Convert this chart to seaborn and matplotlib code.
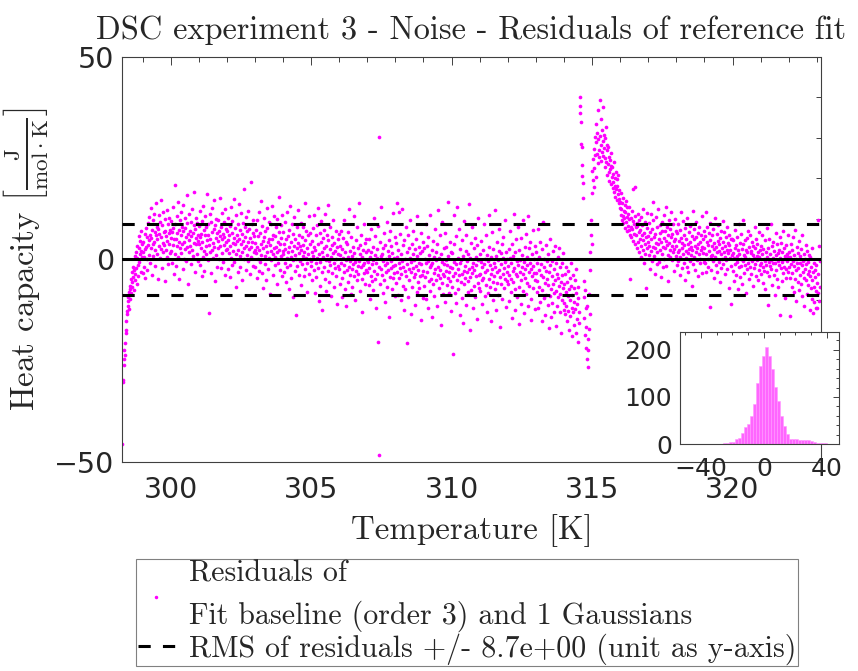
import numpy as np
import pandas as pd
import matplotlib
matplotlib.use("Agg")
import matplotlib.pyplot as plt
from matplotlib.lines import Line2D
from matplotlib.ticker import MultipleLocator
import seaborn as sns

# ---------------- data (residuals, 1-K windows) ----------------
T_STEP = 1 / 70  # sampling interval [K]

seg298 = [-45.6, -30.3, -29.8, -24.5, -26.1, -22.3, -20.6, -23.5, -18.2, -15.1, -17.4, -12.8, -13.5, -10.2, -11.6, -9.4, -12.3, -8.1, -7.2, -9.8, -6.5, -4.9, -8.3, -5.7, -3.2, -6.9, -1.8, -4.4, -7.5, -2.6, 0.8, -5.1, -3.7, 1.9, -2.2, -6.1, 0.3, 3.4, -1.5, -4.2, 2.7, 5.8, -0.6, 1.2, 4.6, -3.1, 6.9, 2.1, 0.5, 3.8]
seg299 = [1.8, -3.4, 4.2, 0.6, -1.9, 6.3, 2.5, -4.6, 3.1, 7.8, 0.2, 5.4, -2.7, 8.9, 3.6, 1.1, 10.4, 4.7, -0.8, 6.1, 2.9, 12.6, 5.2, -3.9, 7.3, 3.8, 0.9, 9.6, 4.4, 11.2, 6.7, -1.6, 2.3, 13.8, 5.9, 8.1, 1.4, 4.9, -4.8, 7.6, 3.3, 10.9, 6.2, 0.4, 9.1, 2.6, 14.7, 5.5, -2.1, 8.4, 4.1, 1.7, 11.8, 6.8, 3.5, -5.3, 7.1, 9.9, 2.2, 5.8, 12.1, 0.7, 4.6, 8.7, -1.2, 6.4, 3.9, 10.3, 1.5, 7.2]
seg300 = [5.3, 2.1, 9.4, -0.9, 6.7, 12.9, 3.6, 7.8, -3.5, 4.9, 18.3, 1.2, 8.6, 5.1, -1.7, 10.8, 3.3, 6.4, 14.2, 0.5, 7.3, 4.2, -4.9, 9.7, 2.8, 11.6, 5.9, 1.6, 8.1, 3.7, -2.4, 6.9, 13.5, 4.4, 0.1, 7.7, 10.2, 2.5, 5.6, -0.3, 15.8, 3.1, 8.9, 6.2, -6.2, 4.8, 1.9, 11.3, 7.1, 3.4, 9.3, -1.1, 5.7, 12.4, 2.3, 6.6, 0.8, 8.4, 4.1, 16.7, -3.0, 7.5, 3.9, 10.1, 5.2, 1.4, 9.0, 6.0, -0.5, 4.6]
seg301 = [3.8, 8.2, -1.4, 5.5, 11.9, 2.7, 6.3, -4.1, 9.5, 4.3, 0.6, 13.1, 7.2, 2.0, -2.8, 5.9, 10.6, 3.2, 7.9, 1.3, 16.2, 4.7, -0.2, 8.8, 6.1, -13.2, 3.5, 11.1, 5.0, 1.8, 9.1, -3.3, 6.8, 2.4, 12.7, 4.0, 0.3, 7.4, 14.6, 3.0, -5.4, 8.5, 5.3, 1.0, 10.0, 6.5, -1.8, 4.5, 9.8, 2.9, 7.0, 0.0, 15.1, 5.8, 3.3, -2.2, 8.0, 4.9, 11.5, 1.6, 6.2, -0.7, 9.2, 3.6, 5.4, 12.3, -3.8, 7.6, 2.2, 4.4]
seg302 = [2.6, 7.1, -2.5, 4.8, 10.2, 1.5, 5.9, -4.4, 8.3, 3.2, 12.8, 0.4, 6.6, -1.3, 9.4, 4.1, 2.0, 14.9, 5.3, -0.6, 7.8, 3.7, -6.8, 10.9, 1.2, 6.0, 4.5, -3.1, 8.7, 2.3, 13.6, 5.0, 0.9, -1.9, 7.3, 11.4, 3.9, 1.7, 6.3, -5.2, 9.0, 4.6, 2.8, 17.4, 0.2, 5.6, 8.1, -2.7, 3.4, 10.5, 1.1, 6.9, -0.4, 4.2, 12.0, 2.5, 7.5, -3.6, 5.2, 19.0, 3.0, 0.7, 8.6, 4.3, -1.6, 6.4, 9.7, 1.9, 5.7, 2.4]
seg303 = [4.1, -1.8, 7.3, 1.6, -4.7, 9.6, 3.0, 0.2, 5.8, -2.9, 11.7, 2.2, 6.4, -0.6, 3.8, 14.3, 1.0, -3.4, 8.2, 4.6, -7.1, 2.7, 10.1, 5.5, -1.2, 0.8, 6.9, 3.3, -5.0, 12.6, 1.9, 7.7, -2.3, 4.4, 9.2, 0.4, 5.1, -8.6, 3.6, 2.1, 8.8, -0.1, 13.2, 4.9, 1.3, -3.9, 6.1, 10.7, 2.8, -1.5, 5.7, 0.6, 7.9, 3.1, -6.1, 9.9, 1.7, 4.3, -0.9, 15.4, 2.4, 6.7, -2.6, 3.9, 8.5, 0.9, 5.3, -4.2, 11.0, 2.0]
seg304 = [1.2, 6.8, -3.1, 3.7, -0.8, 9.3, 2.5, -5.6, 4.9, 0.3, 11.6, -2.0, 5.8, 1.7, -7.4, 7.2, 3.0, -1.3, 13.1, 0.6, 4.4, -4.5, 8.6, 2.1, -0.2, 6.3, -9.2, 3.4, 10.4, 1.0, -2.9, 5.1, 0.0, -13.8, 7.9, 2.8, -1.7, 4.0, 12.2, -3.8, 1.5, 6.0, -0.5, 3.2, 9.0, -6.3, 2.4, 5.5, -1.1, 0.8, 8.1, 3.6, -4.0, 1.9, 14.0, -2.4, 4.7, 0.4, 7.0, -8.1, 2.9, -0.9, 5.9, 1.4, 10.8, -3.5, 3.8, 0.1, 6.5, -1.6]
seg305 = [-0.4, 4.6, 1.8, -5.1, 7.7, 0.9, -2.6, 10.9, 3.1, -8.3, 2.2, 5.9, -1.0, -4.3, 8.4, 0.3, 12.7, -2.2, 3.9, -10.2, 1.4, 6.6, -0.7, -6.5, 4.2, 9.5, -3.0, 1.9, -12.4, 5.3, 0.5, -1.9, 7.3, 2.7, -4.8, 11.2, -0.1, 3.4, -7.8, 6.0, 1.0, -2.8, 4.8, 13.5, -0.3, -5.7, 2.5, 8.0, -1.4, 0.7, -9.1, 3.6, 5.6, -3.4, 1.6, 9.8, -0.9, -6.9, 4.1, 2.0, -2.1, 7.0, 0.2, -4.0, 3.0, -11.0, 5.0, 1.3, -1.6, 6.2]
seg306 = [-2.4, 3.3, -6.2, 1.0, -0.8, 7.1, -4.5, 2.6, -9.4, 0.4, 5.2, -3.1, -1.5, 9.8, -7.3, 1.8, -0.1, 4.4, -11.6, -2.7, 3.9, 0.7, -5.5, 6.7, -1.9, 12.3, -3.8, -0.4, 2.1, -8.6, 5.6, -2.3, 0.9, -6.7, 3.0, -1.1, 10.6, -4.1, 1.5, -0.6, -10.1, 4.7, -2.9, 0.2, 7.9, -5.0, -1.7, 2.9, -3.5, 14.0, -0.3, -7.9, 3.6, 1.2, -2.0, 6.1, -4.8, 0.5, -13.1, 2.4, -1.3, 8.6, -3.3, -0.9, 4.0, -6.0, 1.7, -2.6, 5.0, -0.2]
seg307 = [-3.0, 2.2, -0.7, -6.4, 4.9, -2.1, 0.6, -9.7, 1.8, -4.2, 7.4, -1.2, -5.3, 3.1, -0.2, -7.6, 10.3, -2.8, 1.1, -4.9, 5.7, -0.9, -11.9, 2.5, -3.6, 0.3, 8.2, -20.5, 30.2, -48.2, -1.8, 4.3, -6.1, 0.8, -2.4, 12.8, -3.9, 1.4, -8.3, 2.9, -0.5, -5.0, 6.4, -1.5, 3.6, -10.5, 0.0, -3.2, 9.1, -1.0, -6.9, 2.0, -2.6, 4.8, -14.2, 0.9, -4.4, 7.0, -0.4, -2.2, 3.2, -7.2, 1.6, -1.7, 11.4, -4.7, 0.4, -3.4, 5.4, -9.0]
seg308 = [-1.4, 4.0, -5.8, 13.9, -3.2, 0.7, -8.8, 2.3, -0.9, 11.6, -4.6, -2.1, 6.2, -10.0, 1.2, -3.7, 12.5, -0.3, -6.5, 3.5, -1.9, -12.6, 4.8, -2.8, 0.1, -7.4, 8.0, -4.0, -20.7, 1.9, -1.2, 5.9, -9.3, -2.5, 2.8, -5.2, 0.4, 9.6, -3.0, -13.6, -0.6, 3.9, -6.8, 1.3, -2.2, 7.1, -4.4, -0.1, -11.2, 2.6, -3.5, 5.0, -1.6, -8.0, 0.8, 10.7, -5.6, -2.7, 3.1, -0.8, -7.1, 1.6, -4.1, 6.6, -15.0, -1.1, 2.1, -3.8, 4.4, -9.6]
seg309 = [-2.9, 2.7, -6.6, 0.1, -4.3, 8.6, -1.0, -9.9, 3.4, -3.1, -0.4, -12.0, 5.5, -5.4, 1.0, -2.0, -7.7, 10.9, -1.5, -4.8, 2.2, -14.3, -0.8, 4.6, -6.0, -3.3, 0.6, -9.0, 7.4, -2.4, -5.1, 1.7, -0.2, -11.4, 3.8, -3.9, 12.2, -1.8, -7.0, 0.3, -4.5, 5.9, -2.6, -16.1, 1.4, -0.6, -5.8, 9.3, -3.5, -8.5, 2.9, -1.2, -4.0, 6.5, -10.6, -0.1, -2.9, 3.1, -6.3, -1.4, 14.1, -4.7, 0.9, -3.0, -8.2, 4.2, -1.9, -5.3, 1.8, -12.7]
seg310 = [-2.1, -6.9, 1.5, -23.4, -4.2, 3.9, -0.7, 11.0, -8.4, -3.3, -1.2, 5.8, -10.7, -5.0, 12.9, -2.5, 0.4, -7.3, -3.9, 7.6, -13.8, -1.0, 2.6, -5.7, -0.1, -9.5, 4.7, -3.6, -15.6, 0.9, -2.8, 9.4, -6.2, -1.6, -4.7, 2.0, -11.3, 6.1, -3.0, -0.5, -8.0, 1.2, -5.4, 13.6, -2.3, -17.4, 0.3, -4.4, 4.1, -7.6, -1.9, 8.0, -3.4, -12.1, -0.8, 2.9, -6.5, -2.6, 5.2, -9.2, -4.1, 0.7, -1.4, -14.6, 3.5, -5.9, -0.2, 10.2, -3.8, -7.0]
seg311 = [-3.7, 1.4, -7.8, -0.6, 4.6, -5.2, -2.0, -11.0, 2.3, -4.5, 8.7, -1.1, -9.1, 0.2, -3.2, -6.4, 5.9, -13.0, -2.7, 1.0, -0.3, -8.2, 3.1, -4.9, 10.9, -1.5, -6.7, -15.3, 0.6, -3.5, 6.8, -2.3, -10.1, 2.6, -5.6, -0.9, -4.0, 12.1, -7.3, -1.8, 0.9, -12.4, -3.0, 4.3, -5.9, -0.1, -8.9, 2.0, -2.6, 7.5, -4.4, -16.8, 1.6, -1.2, -6.1, 3.7, -9.8, -3.6, 0.4, 5.4, -2.2, -7.0, -0.7, 9.6, -4.8, -11.7, 1.9, -3.1, -5.3, 0.1]
seg312 = [-1.6, -6.2, 2.5, -3.9, -10.3, 0.3, 6.9, -4.8, -1.0, -8.0, 3.8, -14.4, -2.9, 0.8, -5.5, 11.3, -2.1, -7.4, 1.7, -12.6, -3.5, 4.9, -0.5, -9.3, -4.2, 8.1, -1.3, -6.8, 2.2, -16.0, -0.2, -3.0, 5.3, -10.9, -5.1, 1.1, -1.9, -7.9, 9.7, -3.7, -0.6, -13.3, 3.0, -4.6, -2.4, 6.3, -8.6, 0.5, -5.9, -1.4, 10.6, -11.5, -3.2, 2.7, -6.6, -0.8, 4.4, -9.7, -2.5, -15.0, 1.4, -4.1, 7.3, -1.7, -7.1, 0.0, -3.3, -12.2, 3.4, -5.0]
seg313 = [-3.4, 1.9, -8.1, -0.9, -5.3, 7.6, -12.0, -2.6, 0.7, -6.9, 4.2, -10.4, -3.9, -1.2, -15.1, 2.6, -7.5, -4.4, 9.3, -1.8, -9.6, 0.1, -5.8, -13.7, 3.5, -2.9, -8.7, -0.4, -4.9, -11.2, 1.2, -6.3, -17.0, -3.1, 5.0, -9.0, -1.5, -7.2, -14.2, -4.0, -0.3, -10.8, 2.1, -6.0, -2.3, -12.9, -8.3, 3.3, -5.1, -16.4, -1.0, -7.8, -3.6, -11.6, 0.6, -9.4, -4.7, -6.6, 2.8, -13.1, -2.0, -8.5, -18.2, -5.5, -0.8, -10.0, -3.8, -7.0, 1.5, -12.4]
seg314 = [-6.2, -10.8, -3.5, -13.4, -8.0, -1.9, -11.6, -5.7, -15.2, -9.1, -2.8, -12.7, -7.3, -17.5, -4.6, -10.0, -14.1, -6.5, -0.9, -11.9, -8.8, -19.0, -3.9, -13.0, -7.0, -16.3, -10.4, -5.2, -12.2, -18.1, -8.4, -2.5, -14.8, -11.0, -6.7, -20.3, -9.6, -15.7, -12.9, 40.1, 37.9, 36.2, 33.8, 28.4, 27.6, 23.2, 20.6, 18.9, 15.2, -5.4, -9.3, -14.4, -18.6, -7.6, -12.1, -21.8, -16.6, -24.6, -11.4, -19.7, -26.6, -22.4, -8.5, -17.1, -13.6, 1.9, -2.7, 6.0, 9.7, 3.8]
seg315 = [16.4, 21.8, 19.5, 24.7, 17.9, 27.3, 22.6, 30.1, 25.8, 20.4, 28.9, 33.5, 26.1, 31.2, 23.7, 29.6, 36.8, 27.0, 25.2, 39.2, 30.4, 24.3, 34.7, 28.1, 31.9, 26.6, 29.2, 37.5, 25.5, 30.8, 27.4, 22.9, 29.9, 25.0, 32.6, 24.1, 28.3, 20.8, 26.9, 23.6, 27.8, 21.5, 25.3, 19.4, 24.6, 22.2, 26.2, 18.7, 23.1, 20.3, 22.7, 17.6, 21.0, 19.1, 24.0, 16.5, 20.0, 18.2, 15.4, 21.6, 17.3, 19.8, 14.6, 18.0, 16.1, 20.9, 13.8, 17.0, 15.0, 12.7]
seg316 = [14.2, 11.0, 16.3, 12.5, 9.6, 13.8, 10.7, 15.1, 8.9, 12.0, 10.1, 13.4, 7.8, 11.6, 9.2, 14.5, 6.9, 10.5, 12.8, 8.3, 11.3, 7.2, 9.9, 13.0, 6.1, -4.8, 10.2, 8.0, 5.4, 11.9, 7.5, 9.4, 17.4, 4.6, 8.7, 6.3, 17.8, 10.6, 3.7, 7.9, 5.9, 9.0, 2.8, 8.2, 11.1, 4.4, 6.8, 1.9, 9.6, 5.1, 7.3, 3.2, 10.4, 0.6, 6.0, 8.5, 2.4, 12.3, 4.8, -0.9, 6.6, 3.9, 9.1, 1.3, 5.6, -7.0, 7.7, 2.9, 11.5, 4.2]
seg317 = [5.8, 1.0, 8.9, 3.4, -2.3, 6.7, 11.2, 2.1, 4.9, -0.4, 7.6, 14.1, 3.0, 9.8, 0.8, 5.5, -3.6, 6.2, 2.7, 10.5, 4.1, -1.2, 7.9, 1.7, 12.4, 3.8, 5.0, -0.7, 8.4, 2.4, 6.5, -4.4, 4.3, 9.3, 1.4, 7.1, 3.1, -2.0, 10.9, 5.3, 0.2, 6.9, 2.9, 13.0, 4.6, -1.6, 8.0, 3.5, 1.1, 6.0, -5.3, 4.0, 9.6, 2.2, 7.4, 0.5, 5.6, 11.8, 3.3, -0.2, 6.3, 1.8, 8.7, 4.5, -2.9, 2.6, 10.0, 5.1, 0.9, 7.0]
seg318 = [3.2, -1.5, 6.4, 1.9, 8.8, -0.3, 4.6, 2.3, -3.9, 7.2, 0.7, 5.3, 11.7, 2.8, -2.2, 4.0, 9.5, 1.2, -0.8, 6.1, 3.6, -5.1, 7.8, 2.0, 0.3, 5.0, -1.9, 10.3, 3.9, 1.5, -3.0, 6.8, 2.6, 4.4, -0.5, 8.3, 1.0, 3.1, -6.5, 5.7, 2.4, 12.0, -1.2, 4.9, 0.6, 7.5, 3.4, -2.6, 1.8, 9.1, 5.4, -0.1, 2.9, 6.6, -4.2, 3.7, 1.3, 8.0, -1.0, 4.2, 0.0, 6.0, 2.2, -3.3, 10.8, 3.0, 1.6, 5.1, -0.6, 7.0]
seg319 = [2.7, -0.9, 5.8, 11.7, 1.4, -3.2, 4.3, 7.9, 0.2, 3.6, -1.8, 6.4, 2.1, -11.7, 4.8, 9.0, 0.8, -2.7, 3.3, 5.9, 1.0, -0.4, 7.5, 2.5, -4.6, 4.1, 0.5, 10.1, 3.0, -1.4, 6.2, 1.7, -3.0, 4.6, 8.4, 2.0, -0.7, 3.8, -5.6, 5.2, 1.2, 7.0, -2.1, 2.8, 0.1, 9.5, 4.4, -1.1, 1.9, 6.7, -3.7, 3.2, 0.6, 5.5, -0.2, 2.4, 8.1, -2.5, 4.0, 1.5, -7.0, 3.6, 6.0, 0.3, 2.2, -1.6, 4.9, -10.9, 1.1, 5.0]
seg320 = [1.6, -2.8, 4.7, 0.3, -5.4, 2.9, 7.2, -1.1, 3.5, -3.9, 0.9, 5.6, -0.6, -7.3, 2.2, 8.8, -2.0, 1.3, 4.1, -4.4, 0.0, 6.3, -1.7, 2.6, -6.1, 3.9, -0.3, 9.7, 1.1, -3.3, 4.8, -1.4, 0.6, -8.2, 2.4, 5.2, -2.5, 1.8, -0.9, 7.0, -4.8, 3.0, 0.2, -1.9, 6.1, 1.5, -3.6, 2.0, -0.5, 4.4, -6.6, 1.0, 3.3, -2.2, 0.4, 8.1, -1.2, 2.7, -4.1, 5.0, 0.8, -0.1, 3.7, -5.0, 1.9, -2.7, 6.7, 0.5, -1.5, 2.3]
seg321 = [-0.8, 3.4, -3.5, 1.2, 6.0, -1.9, -5.8, 2.5, 0.1, -2.9, 4.7, -0.4, -7.4, 1.8, -1.3, 7.7, -3.1, 0.7, -11.2, 2.9, -0.6, 5.1, -4.2, -1.6, 1.4, -2.3, 8.6, -0.2, 3.2, -6.3, 0.4, -1.0, 4.2, -3.8, 2.0, -8.8, -0.9, 6.4, 1.0, -2.6, -4.9, 3.7, -0.3, 1.6, -6.9, 2.4, -1.4, 5.5, -13.7, 0.3, -2.1, 4.0, -0.7, -5.3, 1.9, -3.3, 7.1, 0.0, -1.8, 2.8, -9.6, 0.9, -2.4, 3.5, -4.5, 1.3, -0.5, 5.9, -3.0, 0.6]
seg322 = [-2.0, 1.8, -14.1, -4.5, 0.5, 3.9, -1.2, -6.7, 2.2, -3.4, -0.3, 5.6, -8.0, -1.7, 1.1, -4.9, 7.3, -2.6, 0.0, -10.2, -0.9, 3.0, -5.6, -2.2, 1.6, -7.5, 4.6, -1.0, -3.8, 0.8, -6.0, 2.5, -1.5, -9.1, 6.0, -3.1, -0.4, 1.4, -4.6, -11.6, -2.4, 0.2, 3.6, -5.2, -1.1, -8.6, 2.0, -3.6, -0.6, -6.4, 1.0, -2.9, -12.4, -4.1, 0.6, -7.1, -1.8, -9.7, 2.8, -5.0, -3.2, -13.2, -0.8, -6.8, -10.6, -2.7, -4.3, -12.1, -7.7, -1.3]
seg323 = [-5.8, -11.9, 9.7, -8.4, -3.6, 3.2, -10.3, -6.9, -0.4]

window_start = [298, 299, 300, 301, 302, 303, 304, 305, 306, 307, 308, 309, 310,
                311, 312, 313, 314, 315, 316, 317, 318, 319, 320, 321, 322, 323]
windows = [seg298, seg299, seg300, seg301, seg302, seg303, seg304, seg305, seg306,
           seg307, seg308, seg309, seg310, seg311, seg312, seg313, seg314, seg315,
           seg316, seg317, seg318, seg319, seg320, seg321, seg322, seg323]

RMS = 8.7
HIST_EDGES = np.arange(-49.0, 42.0, 1.9)

# build the table: the first window ends at 299 K, the others start at their integer K
temps, resid = [], []
for start, vals in zip(window_start, windows):
    t0 = (start + 1 - len(vals) * T_STEP) if start == window_start[0] else start
    temps.extend(t0 + T_STEP * np.arange(len(vals)))
    resid.extend(vals)
df = pd.DataFrame({"T": temps, "res": resid})

# ---------------- style ----------------
sns.set_style("white")
plt.rcParams["font.family"] = ["DejaVu Sans"]
plt.rcParams["mathtext.fontset"] = "cm"
CM = "cmr10"
MAG = "#FF00FF"
FRAME = "#404040"

W, H = 858, 671
fig = plt.figure(figsize=(W / 100, H / 100), dpi=100)
ax = fig.add_axes([122.3 / W, 1 - 462 / H, (820.5 - 122.3) / W, (462 - 56.7) / H])

sns.scatterplot(data=df, x="T", y="res", ax=ax, s=7, color=MAG, linewidth=0,
                legend=False, zorder=2)
ax.axhline(0, color="black", lw=2.2, zorder=3)
ax.axhline(RMS, color="black", lw=2.2, dashes=(4, 4), zorder=3)
ax.axhline(-RMS, color="black", lw=2.2, dashes=(4, 4), zorder=3)

ax.set_xlim(298.28, 323.13)
ax.set_ylim(-50, 50)
ax.xaxis.set_major_locator(MultipleLocator(5))
ax.xaxis.set_minor_locator(MultipleLocator(1))
ax.yaxis.set_major_locator(MultipleLocator(50))
ax.yaxis.set_minor_locator(MultipleLocator(10))
ax.tick_params(which="both", direction="in", top=True, right=True, color=FRAME,
               width=0.7, labelsize=20.5, labelcolor="#262626")
ax.tick_params(which="major", length=6)
ax.tick_params(which="minor", length=3.5)
ax.tick_params(axis="x", which="major", pad=10)
ax.tick_params(axis="y", which="major", pad=6)
for sp in ax.spines.values():
    sp.set_color(FRAME)
    sp.set_linewidth(0.8)

ax.set_title("DSC experiment 3 - Noise - Residuals of reference fit",
             fontfamily=CM, fontsize=23.3, pad=13)
ax.set_xlabel("Temperature [K]", fontfamily=CM, fontsize=23.7, labelpad=7)
ax.set_ylabel(r"Heat capacity $\left[\frac{\mathrm{J}}{\mathrm{mol}\cdot\mathrm{K}}\right]$",
              fontfamily=CM, fontsize=23.7, labelpad=3)

# ---------------- inset histogram ----------------
axi = fig.add_axes([680.3 / W, 1 - 444 / H, 158.4 / W, 112 / H])
axi.set_facecolor("white")
sns.histplot(x=df["res"], bins=HIST_EDGES, ax=axi, color="#FF66FF", alpha=1,
             edgecolor="#FF99FF", linewidth=0.4)
axi.set_xlim(-53, 47.4)
axi.set_ylim(0, 238)
axi.set_xlabel("")
axi.set_ylabel("")
axi.xaxis.set_major_locator(MultipleLocator(40))
axi.xaxis.set_minor_locator(MultipleLocator(10))
axi.yaxis.set_major_locator(MultipleLocator(100))
axi.yaxis.set_minor_locator(MultipleLocator(20))
axi.tick_params(which="both", direction="in", top=True, right=True, color=FRAME,
                width=0.7, labelsize=18, labelcolor="#262626")
axi.tick_params(which="major", length=4)
axi.tick_params(which="minor", length=2)
axi.tick_params(axis="x", which="major", pad=9)
axi.tick_params(axis="y", which="major", pad=6)
for sp in axi.spines.values():
    sp.set_color(FRAME)
    sp.set_linewidth(0.8)

# ---------------- legend ----------------
handles = [Line2D([], [], ls="none", marker=".", color=MAG, markersize=3),
           Line2D([], [], color="black", lw=2.2, dashes=(4, 4))]
labels = ["Residuals of\nFit baseline (order 3) and 1 Gaussians",
          "RMS of residuals +/- 8.7e+00 (unit as y-axis)"]
leg = fig.legend(handles, labels, loc="upper left",
                 bbox_to_anchor=(136 / W, 1 - 559 / H),
                 prop={"family": CM, "size": 21.6}, frameon=True, fancybox=False,
                 edgecolor="#606060", handlelength=1.25, handletextpad=0.47,
                 borderpad=0.05, labelspacing=0.03, borderaxespad=0)
leg.get_frame().set_linewidth(0.8)
for t in leg.get_texts():
    t.set_linespacing(1.55)

fig.savefig("out.png", dpi=100)
